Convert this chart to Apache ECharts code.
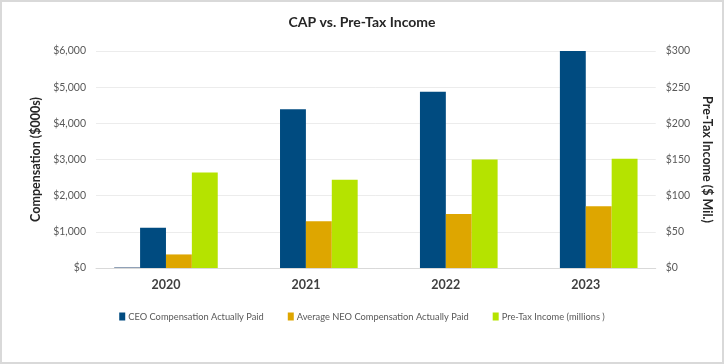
<!DOCTYPE html>
<html>
<head>
<meta charset="utf-8">
<script src="https://cdn.jsdelivr.net/npm/echarts@6/dist/echarts.min.js"></script>
<style>
  html, body { margin: 0; padding: 0; background: #fff; }
  #wrap { width: 724px; height: 364px; box-sizing: border-box; border: 2px solid #d9d9d9; }
  #chart { width: 720px; height: 360px; }
</style>
</head>
<body>
<div id="wrap"><div id="chart"></div></div>
<script>
const categories = ['2020', '2021', '2022', '2023'];
const otherValues = [25, 0, 0, 0];
const ceoValues = [1110, 4390, 4870, 6000];
const neoValues = [375, 1290, 1490, 1705];
const pretaxValues = [132, 122, 150, 151];
const leftTicks = { min: 0, max: 6000, interval: 1000 };
const rightTicks = { min: 0, max: 300, interval: 50 };

const font = 'Lato, "Open Sans", sans-serif';
const chart = echarts.init(document.getElementById('chart'));
const fmtMoney = v => '$' + v.toLocaleString('en-US');
chart.setOption({
  animation: false,
  title: {
    text: 'CAP vs. Pre-Tax Income',
    left: 'center', top: 8,
    textStyle: { fontFamily: font, fontSize: 14, fontWeight: 'bold', color: '#262626' }
  },
  legend: {
    bottom: 36, left: 'center', itemGap: 24,
    itemWidth: 6, itemHeight: 8, icon: 'rect',
    data: ['CEO Compensation Actually Paid', 'Average NEO Compensation Actually Paid', 'Pre-Tax Income (millions )'],
    textStyle: { fontFamily: font, fontSize: 9.3, color: '#595959', padding: [0, 0, 0, -2] }
  },
  grid: { left: 94, right: 62, top: 49, bottom: 94, containLabel: false },
  xAxis: {
    type: 'category', data: categories,
    axisLine: { lineStyle: { color: '#d9d9d9' } },
    axisTick: { show: false },
    axisLabel: { fontFamily: font, fontSize: 12.5, fontWeight: 'bold', color: '#404040', margin: 10 }
  },
  yAxis: [
    {
      type: 'value', min: leftTicks.min, max: leftTicks.max, interval: leftTicks.interval,
      name: 'Compensation ($000s)', nameLocation: 'middle', nameGap: 54,
      nameTextStyle: { fontFamily: font, fontSize: 12.5, fontWeight: 'bold', color: '#262626' },
      axisLabel: { formatter: fmtMoney, fontFamily: font, fontSize: 10.5, color: '#595959', margin: 10 },
      splitLine: { lineStyle: { color: '#ececec' } },
      axisLine: { show: false }, axisTick: { show: false }
    },
    {
      type: 'value', min: rightTicks.min, max: rightTicks.max, interval: rightTicks.interval,
      name: 'Pre-Tax Income ($ Mil.)', nameLocation: 'middle', nameGap: 34, nameRotate: -90,
      nameTextStyle: { fontFamily: font, fontSize: 12.5, fontWeight: 'bold', color: '#262626' },
      axisLabel: { formatter: v => '$' + v, fontFamily: font, fontSize: 10.5, color: '#595959', margin: 10 },
      splitLine: { show: false },
      axisLine: { show: false }, axisTick: { show: false }
    }
  ],
  series: [
    { name: 'Other', type: 'bar', yAxisIndex: 0, data: otherValues,
      itemStyle: { color: '#8497b0' }, barGap: '0%', barCategoryGap: '26%' },
    { name: 'CEO Compensation Actually Paid', type: 'bar', yAxisIndex: 0, data: ceoValues,
      itemStyle: { color: '#004b80' }, barGap: '0%', barCategoryGap: '26%' },
    { name: 'Average NEO Compensation Actually Paid', type: 'bar', yAxisIndex: 0, data: neoValues,
      itemStyle: { color: '#dea600' }, barGap: '0%', barCategoryGap: '26%' },
    { name: 'Pre-Tax Income (millions )', type: 'bar', yAxisIndex: 1, data: pretaxValues,
      itemStyle: { color: '#b5e300' }, barGap: '0%', barCategoryGap: '26%' }
  ]
});
</script>
</body>
</html>
